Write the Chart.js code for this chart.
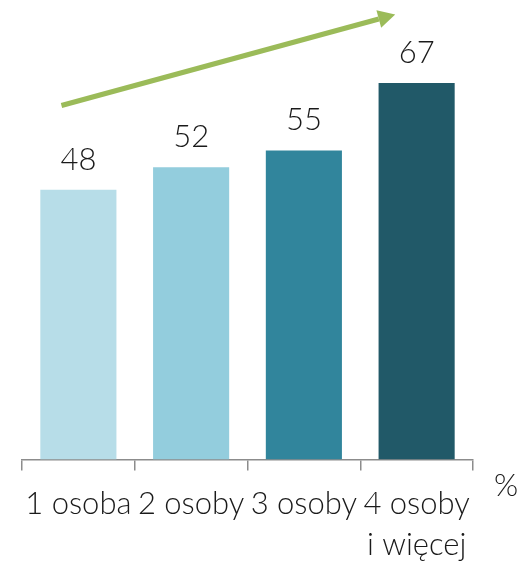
<!DOCTYPE html>
<html lang="pl">
<head>
<meta charset="UTF-8">
<script src="https://cdn.jsdelivr.net/npm/chart.js"></script>
<style>
  body { margin: 0; background: #ffffff; }
  #wrap { width: 528px; height: 563px; }
</style>
</head>
<body>
<div id="wrap"><canvas id="c"></canvas></div>
<script>
// chart values
const categories = ['1 osoba', '2 osoby', '3 osoby', ['4 osoby', 'i więcej']];
const values = [48, 52, 55, 67];
const barColors = ['#b7dde8', '#93cddd', '#31859c', '#215968'];
const unitLabel = '%';
// trend arrow, in (category index, value) units
const arrowFrom = [-0.15, 63];
const arrowTo = [2.81, 79.2];

const FONT = "Lato, 'Open Sans', sans-serif";

// value labels above bars, trend arrow and the % sign
const extras = {
    id: 'extras',
    afterDatasetsDraw(chart) {
        const ctx = chart.ctx;
        const meta = chart.getDatasetMeta(0);
        const xs = chart.scales.x, ys = chart.scales.y;
        ctx.save();
        ctx.fillStyle = '#1a1a1a';
        ctx.font = '300 31px ' + FONT;
        ctx.textAlign = 'center';
        ctx.textBaseline = 'alphabetic';
        meta.data.forEach((bar, i) => {
            ctx.fillText(String(values[i]), bar.x, bar.y - 20);
        });

        // arrow
        const x1 = xs.getPixelForValue(arrowFrom[0]), y1 = ys.getPixelForValue(arrowFrom[1]);
        const x2 = xs.getPixelForValue(arrowTo[0]), y2 = ys.getPixelForValue(arrowTo[1]);
        const ang = Math.atan2(y2 - y1, x2 - x1);
        const headLen = 17, headW = 9;
        const bx = x2 - headLen * Math.cos(ang), by = y2 - headLen * Math.sin(ang);
        ctx.strokeStyle = '#9bbb59';
        ctx.fillStyle = '#9bbb59';
        ctx.lineWidth = 5;
        ctx.beginPath();
        ctx.moveTo(x1, y1);
        ctx.lineTo(bx, by);
        ctx.stroke();
        ctx.beginPath();
        ctx.moveTo(x2, y2);
        ctx.lineTo(bx + headW * Math.sin(ang), by - headW * Math.cos(ang));
        ctx.lineTo(bx - headW * Math.sin(ang), by + headW * Math.cos(ang));
        ctx.closePath();
        ctx.fill();

        // unit sign
        ctx.fillStyle = '#1a1a1a';
        ctx.font = '300 31px ' + FONT;
        ctx.textAlign = 'center';
        ctx.fillText(unitLabel, xs.right + 33, ys.bottom + 36);
        ctx.restore();
    }
};

new Chart(document.getElementById('c'), {
    type: 'bar',
    data: {
        labels: categories,
        datasets: [{
            data: values,
            backgroundColor: barColors,
            categoryPercentage: 1,
            barPercentage: 0.675
        }]
    },
    options: {
        responsive: true,
        maintainAspectRatio: false,
        animation: false,
        layout: { padding: { left: 22, right: 55, top: 10, bottom: -16 } },
        plugins: { legend: { display: false }, tooltip: { enabled: false } },
        scales: {
            x: {
                grid: {
                    display: true,
                    drawOnChartArea: false,
                    drawTicks: true,
                    tickLength: 11,
                    color: '#8c8c8c',
                    lineWidth: 1.5,
                    offset: true
                },
                border: { display: true, color: '#8c8c8c', width: 1.5 },
                ticks: {
                    color: '#1a1a1a',
                    font: { family: FONT, size: 31, weight: '300', lineHeight: 1.33 },
                    padding: 13,
                    maxRotation: 0,
                    autoSkip: false
                }
            },
            y: {
                display: false,
                min: 0,
                max: 80
            }
        }
    },
    plugins: [extras]
});
</script>
</body>
</html>
